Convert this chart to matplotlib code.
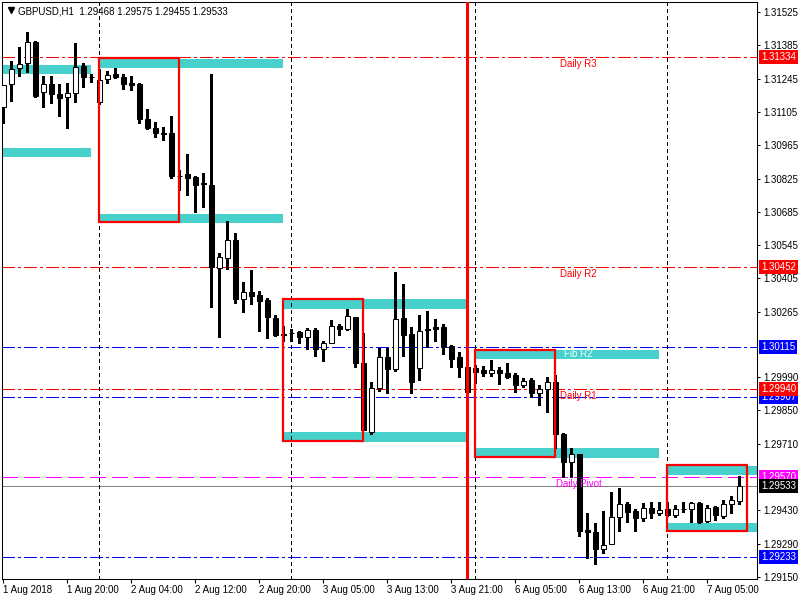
import matplotlib
matplotlib.use("Agg")
import matplotlib.pyplot as plt
import matplotlib.transforms as mtransforms
from matplotlib.patches import Rectangle

# GBPUSD H1 bars
opens = [
    1.31126, 1.31222, 1.31290, 1.31311, 1.31399, 1.31189, 1.31222, 1.31180, 1.31168, 1.31185,
    1.31298, 1.31252, 1.31147, 1.31243, 1.31264, 1.31252, 1.31227, 1.31222, 1.31075, 1.31037,
    1.31016, 1.31016, 1.30836, 1.30844, 1.30831, 1.30806, 1.30798, 1.30449, 1.30491, 1.30567,
    1.30319, 1.30348, 1.30335, 1.30314, 1.30239, 1.30171, 1.30176, 1.30180, 1.30159, 1.30188,
    1.30108, 1.30134, 1.30205, 1.30193, 1.30243, 1.30050, 1.29760, 1.29945, 1.30075, 1.30024,
    1.30239, 1.30171, 1.30029, 1.30193, 1.30201, 1.30201, 1.30121, 1.30075, 1.30033, 1.30029,
    1.30020, 1.30008, 1.30020, 1.30008, 1.29999, 1.29957, 1.29978, 1.29923, 1.29940, 1.29970,
    1.29751, 1.29633, 1.29667, 1.29348, 1.29339, 1.29268, 1.29289, 1.29402, 1.29457, 1.29427,
    1.29398, 1.29440, 1.29419, 1.29436, 1.29411, 1.29436, 1.29436, 1.29461, 1.29385, 1.29444,
    1.29406, 1.29457, 1.29468]
highs = [
    1.31218, 1.31319, 1.31378, 1.31441, 1.31403, 1.31256, 1.31256, 1.31222, 1.31227, 1.31395,
    1.31311, 1.31264, 1.31285, 1.31277, 1.31290, 1.31264, 1.31256, 1.31227, 1.31117, 1.31063,
    1.31042, 1.31088, 1.30861, 1.30928, 1.30836, 1.30848, 1.31264, 1.30512, 1.30646, 1.30596,
    1.30390, 1.30441, 1.30352, 1.30323, 1.30251, 1.30205, 1.30193, 1.30184, 1.30197, 1.30197,
    1.30142, 1.30230, 1.30214, 1.30277, 1.30243, 1.30176, 1.29970, 1.30113, 1.30113, 1.30432,
    1.30382, 1.30201, 1.30251, 1.30268, 1.30235, 1.30214, 1.30125, 1.30096, 1.30054, 1.30041,
    1.30037, 1.30062, 1.30033, 1.30050, 1.30008, 1.29987, 1.29987, 1.29957, 1.29991, 1.29999,
    1.29755, 1.29692, 1.29667, 1.29419, 1.29377, 1.29427, 1.29507, 1.29524, 1.29465, 1.29436,
    1.29461, 1.29465, 1.29465, 1.29465, 1.29453, 1.29465, 1.29465, 1.29465, 1.29453, 1.29448,
    1.29474, 1.29490, 1.29575]
lows = [
    1.31058, 1.31151, 1.31256, 1.31273, 1.31168, 1.31126, 1.31142, 1.31088, 1.31037, 1.31147,
    1.31210, 1.31231, 1.31138, 1.31227, 1.31248, 1.31201, 1.31197, 1.31058, 1.31033, 1.30999,
    1.30987, 1.30827, 1.30777, 1.30756, 1.30684, 1.30705, 1.30285, 1.30159, 1.30445, 1.30302,
    1.30264, 1.30298, 1.30184, 1.30155, 1.30163, 1.30142, 1.30142, 1.30134, 1.30108, 1.30079,
    1.30058, 1.30134, 1.30167, 1.30188, 1.30033, 1.29768, 1.29751, 1.29932, 1.29923, 1.30016,
    1.30079, 1.29923, 1.29978, 1.30117, 1.30142, 1.30087, 1.30033, 1.29991, 1.29919, 1.29966,
    1.29995, 1.29995, 1.29961, 1.29987, 1.29928, 1.29949, 1.29907, 1.29873, 1.29844, 1.29692,
    1.29570, 1.29570, 1.29322, 1.29230, 1.29205, 1.29251, 1.29289, 1.29343, 1.29381, 1.29343,
    1.29385, 1.29398, 1.29411, 1.29406, 1.29402, 1.29423, 1.29381, 1.29377, 1.29381, 1.29390,
    1.29398, 1.29419, 1.29455]
closes = [
    1.31218, 1.31285, 1.31306, 1.31399, 1.31172, 1.31222, 1.31180, 1.31164, 1.31185, 1.31294,
    1.31252, 1.31250, 1.31239, 1.31260, 1.31252, 1.31222, 1.31220, 1.31075, 1.31037, 1.31016,
    1.31014, 1.30836, 1.30834, 1.30827, 1.30798, 1.30804, 1.30453, 1.30495, 1.30567, 1.30319,
    1.30348, 1.30331, 1.30310, 1.30243, 1.30167, 1.30169, 1.30174, 1.30159, 1.30188, 1.30108,
    1.30134, 1.30205, 1.30193, 1.30247, 1.30050, 1.29768, 1.29945, 1.30075, 1.30024, 1.30235,
    1.30167, 1.29970, 1.30184, 1.30190, 1.30193, 1.30117, 1.30066, 1.30033, 1.29928, 1.30012,
    1.30008, 1.30020, 1.30008, 1.29991, 1.29957, 1.29974, 1.29923, 1.29940, 1.29970, 1.29751,
    1.29633, 1.29667, 1.29343, 1.29339, 1.29268, 1.29285, 1.29402, 1.29457, 1.29423, 1.29398,
    1.29440, 1.29419, 1.29432, 1.29411, 1.29436, 1.29434, 1.29461, 1.29381, 1.29440, 1.29411,
    1.29457, 1.29474, 1.29533]

time_labels = ["1 Aug 2018", "1 Aug 20:00", "2 Aug 04:00", "2 Aug 12:00", "2 Aug 20:00",
               "3 Aug 05:00", "3 Aug 13:00", "3 Aug 21:00", "6 Aug 05:00", "6 Aug 13:00",
               "6 Aug 21:00", "7 Aug 05:00"]
price_ticks = [1.31525, 1.31385, 1.31245, 1.31105, 1.30965, 1.30825, 1.30685, 1.30545,
               1.30405, 1.30265, 1.29990, 1.29850, 1.29710, 1.29430, 1.29290, 1.29150]

# supply / demand zones (bar from, bar to, top, bottom)
zone_start = [-1, -1, 12, 12, 35, 35, 59, 59, 83, 83]
zone_end = [11, 11, 35, 35, 58, 58, 82, 82, 96, 96]
zone_top = [1.31302, 1.30953, 1.31327, 1.30676, 1.30319, 1.29760, 1.30104, 1.29692, 1.29617, 1.29377]
zone_bottom = [1.31264, 1.30915, 1.31290, 1.30638, 1.30277, 1.29718, 1.30066, 1.29650, 1.29579, 1.29339]

# red boxes
box_start = [12, 35, 59, 83]
box_end = [22, 45, 69, 93]
box_top = [1.31332, 1.30319, 1.30104, 1.29621]
box_bottom = [1.30642, 1.29722, 1.29654, 1.29343]

# pivot levels
red_levels = [1.31334, 1.30452, 1.29940]
blue_levels = [1.30115, 1.29907, 1.29233]
pivot_level = 1.29570
bid = 1.29533
level_texts = ["Daily R3", "Daily R2", "Fib R2", "Daily R1", "Daily Pivot"]
level_text_values = [1.31334, 1.30452, 1.30115, 1.29940, 1.29570]
level_text_colors = ["red", "red", "#e6ffff", "red", "magenta"]

day_breaks = [12, 36, 59, 83]
marker_bar = 58

plt.rcParams['font.family'] = ['Liberation Sans', 'DejaVu Sans']
plt.rcParams['font.size'] = 7

fig = plt.figure(figsize=(8, 6), dpi=100)
ax = fig.add_axes([2 / 800, 21 / 600, 755 / 800, 577 / 600])

for s, e, t, b in zip(zone_start, zone_end, zone_top, zone_bottom):
    ax.add_patch(Rectangle((s, b), e - s, t - b, facecolor="#48d1cc", edgecolor="none", zorder=1))

dashdot = (0, (12, 4, 2.6, 4))
for v in red_levels:
    ax.axhline(v, color="#ff0000", lw=0.72, ls=dashdot, antialiased=False, zorder=2)
for v in blue_levels:
    ax.axhline(v, color="#0000ff", lw=0.72, ls=dashdot, antialiased=False, zorder=2)
ax.axhline(pivot_level, color="#ff00ff", lw=0.72, ls=(0, (16, 6.5)), antialiased=False, zorder=2)
ax.axhline(bid, color="#808080", lw=0.72, antialiased=False, zorder=2)

for b in day_breaks:
    ax.axvline(b, color="black", lw=0.72, ls=(0, (4, 4)), antialiased=False, zorder=2)

# candles
x = list(range(len(opens)))
ax.vlines(x, lows, highs, color="black", lw=0.75, antialiased=False, zorder=3)
bottoms = [min(o, c) for o, c in zip(opens, closes)]
heights = [abs(c - o) for o, c in zip(opens, closes)]
faces = ["white" if c > o else "black" for o, c in zip(opens, closes)]
ax.bar(x, heights, bottom=bottoms, width=0.55, color=faces, edgecolor="black",
       linewidth=0.75, zorder=4)

ax.axvline(marker_bar, color="red", lw=2.2, zorder=5)

for s, e, t, b in zip(box_start, box_end, box_top, box_bottom):
    ax.add_patch(Rectangle((s, b), e - s, t - b, fill=False, edgecolor="red", lw=1.6, zorder=6))

for txt, v, c in zip(level_texts, level_text_values, level_text_colors):
    ax.annotate(txt, (71.9, v), xytext=(0, -1.2), textcoords="offset points",
                ha="center", va="top", color=c, fontsize=7, zorder=7)

ax.set_xlim(-0.1875, 94.19)
ax.set_ylim(1.291416, 1.31567)

ax.set_xticks(range(0, 8 * len(time_labels), 8))
ax.set_xticklabels(time_labels, ha="left")
ax.yaxis.tick_right()
ax.set_yticks(price_ticks)
ax.set_yticklabels([f"{p:.5f}" for p in price_ticks])
ax.tick_params(axis="x", length=3, width=0.75, pad=1.5, labelsize=7)
ax.tick_params(axis="y", length=2.2, width=0.75, pad=2.2, labelsize=7)
for sp in ax.spines.values():
    sp.set_linewidth(0.75)
    sp.set_color("black")

# price boxes on the right scale
trans = mtransforms.blended_transform_factory(ax.transAxes, ax.transData)
box_vals = [1.31334, 1.30452, 1.30115, 1.29907, 1.29940, 1.29570, 1.29533, 1.29233]
box_cols = ["red", "red", "blue", "blue", "red", "magenta", "black", "blue"]
for v, c in zip(box_vals, box_cols):
    ax.text(1.0053, v, f"{v:.5f}", transform=trans, ha="left", va="center", color="white",
            fontsize=7, clip_on=False, zorder=8,
            bbox=dict(boxstyle="square,pad=0.2", fc=c, ec="none"))

ax.plot([9.5 / 755], [1 - 8 / 577], marker="v", ms=4, color="black",
        transform=ax.transAxes, clip_on=False)
fig.text(18 / 800, 1 - 11 / 600, "GBPUSD,H1  1.29468 1.29575 1.29455 1.29533",
         ha="left", va="center", fontsize=7)

fig.savefig("out.png", dpi=100)
